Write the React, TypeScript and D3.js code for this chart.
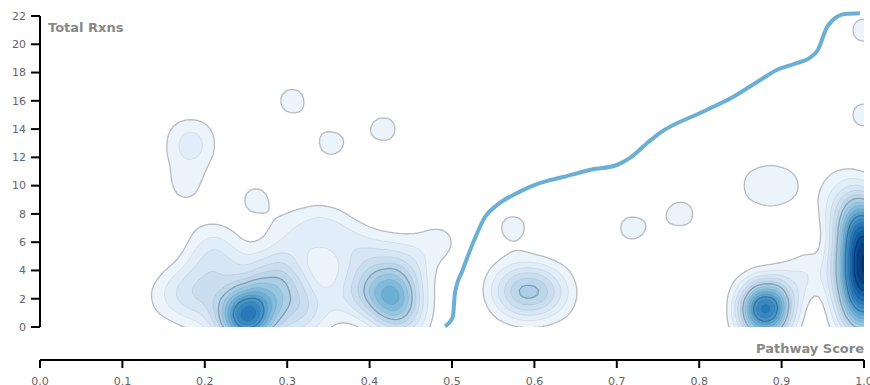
import React from "react";
import * as d3 from "d3";

const W = 870;
const H = 385;
const X0 = 40, X1 = 864, Y0 = 327, Y1 = 16;
const AXIS_Y = 360;

const xTicks = [0, 0.1, 0.2, 0.3, 0.4, 0.5, 0.6, 0.7, 0.8, 0.9, 1.0];
const yTicks = [0, 2, 4, 6, 8, 10, 12, 14, 16, 18, 20, 22];

// [pathway score, total rxns, count]
const isolatedPoints: [number, number, number][] = [
  [0.306, 16, 1], [0.353, 13, 1], [0.417, 14, 1], [0.262, 9, 1],
  [0.574, 7, 1], [0.718, 7, 1], [0.778, 8, 1], [0.871, 10, 1], [0.903, 10, 1],
  [1.0, 21, 1], [1.0, 15, 1], [0.183, 13, 2], [0.177, 10, 1],
];
const broadPoints: [number, number, number][] = [
  [0.155, 2, 1], [0.175, 3, 1], [0.19, 2, 1], [0.2, 4, 1], [0.205, 6, 1], [0.22, 5, 1],
  [0.2, 1, 1], [0.215, 3, 1], [0.25, 4, 1], [0.28, 4, 1], [0.3, 6, 1], [0.325, 7, 1],
  [0.35, 7, 1], [0.37, 6, 1], [0.39, 5, 1], [0.41, 5, 1], [0.44, 5, 1],
  [0.445, 4, 1], [0.485, 6, 1], [0.3, 4, 1], [0.31, 2, 1], [0.31, 3, 1], [0.33, 1, 1],
  [0.37, 2, 1], [0.38, 3, 1], [0.445, 2, 1], [0.44, 1, 1], [0.44, 0, 1], [0.3, 0, 1], [0.31, 1, 1],
];
const clusterA: [number, number, number][] = [
  [0.25, 1, 3], [0.24, 1, 2], [0.26, 1, 2], [0.25, 0, 2], [0.24, 0, 1], [0.26, 0, 1],
  [0.25, 2, 1], [0.27, 2, 1], [0.28, 2, 1], [0.28, 3, 1],
];
const clusterB: [number, number, number][] = [
  [0.42, 2, 2], [0.42, 3, 1], [0.43, 2, 1], [0.41, 3, 1], [0.43, 1, 1], [0.4, 2, 1], [0.44, 3, 1],
];
const clusterC: [number, number, number][] = [
  [0.59, 2, 1], [0.6, 3, 1], [0.585, 3, 1], [0.6, 2, 1],
  [0.57, 2, 1], [0.62, 3, 1], [0.565, 3, 1], [0.625, 2, 1],
];
const clusterD: [number, number, number][] = [
  [0.88, 1, 7], [0.88, 2, 4], [0.88, 0, 1], [0.915, 3, 1], [0.94, 4, 1],
];
const clusterE: [number, number, number][] = [
  [1.0, 0, 2], [1.0, 1, 3], [1.0, 2, 4], [1.0, 3, 5], [1.0, 4, 5], [1.0, 5, 5],
  [1.0, 6, 5], [1.0, 7, 4], [1.0, 8, 3], [1.0, 9, 1],
  [0.97, 8, 1], [0.975, 10, 1],
];

// trend line [pathway score, total rxns]
const trendLine: [number, number][] = [
  [0.4915, 0.05], [0.501, 0.71], [0.5036, 2.4], [0.513, 4.03], [0.5255, 5.94], [0.54, 7.78],
  [0.5546, 8.63], [0.579, 9.48], [0.607, 10.19], [0.635, 10.61], [0.667, 11.11], [0.7, 11.46],
  [0.716, 11.96], [0.737, 13.02], [0.752, 13.72], [0.801, 15.14], [0.841, 16.27], [0.874, 17.47],
  [0.894, 18.18], [0.919, 18.68], [0.934, 19.03], [0.944, 19.6], [0.955, 21.2], [0.962, 21.7],
  [0.977, 22.14], [0.995, 22.2],
];

const FONT = "'DejaVu Sans', sans-serif";

export default function App() {
  const xs = d3.scaleLinear().domain([0, 1]).range([X0, X1]);
  const ys = d3.scaleLinear().domain([0, 22]).range([Y0, Y1]);
  const pts = [...isolatedPoints, ...broadPoints, ...clusterA, ...clusterB, ...clusterC, ...clusterD, ...clusterE];
  const BW = 15;
  // effective spread of d3's three-pass box blur on its 4px grid
  const rb = (Math.sqrt(4 * BW * BW + 1) - 1) / 2 / 4;
  const sigmaEff = 4 * Math.sqrt(rb * (rb + 1));
  const peak = 1 / (2 * Math.PI * sigmaEff * sigmaEff);
  const step = 0.72 * peak;
  const thresholds = d3.range(1, 60).map((i) => i * step);
  const contours = d3
    .contourDensity<[number, number, number]>()
    .x((d) => xs(d[0]))
    .y((d) => ys(d[1]))
    .weight((d) => d[2])
    .size([W, H])
    .bandwidth(BW)
    .thresholds(thresholds)(pts)
    .filter((c) => c.coordinates.length > 0);
  const maxV = d3.max(contours, (c) => c.value) ?? 1;
  const color = d3.scaleSequential(d3.interpolateBlues).domain([0, maxV]);
  const path = d3.geoPath();
  const line = d3
    .line<[number, number]>()
    .x((d) => xs(d[0]))
    .y((d) => ys(d[1]))
    .curve(d3.curveMonotoneX);

  return (
    <svg width={W} height={H} style={{ position: "absolute", left: 0, top: 0, display: "block" }}>
      <defs>
        <clipPath id="plotClip">
          <rect x={0} y={0} width={X1} height={Y0} />
        </clipPath>
      </defs>
      <g clipPath="url(#plotClip)">
        {contours.map((c, i) => (
          <path
            key={i}
            d={path(c) ?? ""}
            fill={color(c.value)}
            stroke="#000"
            strokeOpacity={i % 5 === 0 ? 0.25 : 0.07}
            strokeWidth={i % 5 === 0 ? 1.3 : 1}
            strokeLinejoin="round"
          />
        ))}
      </g>
      <path d={line(trendLine) ?? ""} fill="none" stroke="#6baed6" strokeWidth={4} strokeLinecap="butt" />
      {/* y axis */}
      <g>
        <line x1={X0} x2={X0} y1={Y1} y2={Y0} stroke="#000" strokeWidth={2} />
        {yTicks.map((t) => (
          <g key={t} transform={`translate(0,${ys(t)})`}>
            <line x1={X0 - 9} x2={X0} stroke="#000" strokeWidth={2} />
            <text x={X0 - 14} dy="0.35em" textAnchor="end" fontFamily={FONT} fontSize={11} fill="#666">
              {t}
            </text>
          </g>
        ))}
        <text x={48} y={32} fontFamily={FONT} fontWeight="bold" fontSize={13} fill="#888">
          Total Rxns
        </text>
      </g>
      {/* x axis */}
      <g>
        <line x1={X0} x2={X1} y1={AXIS_Y} y2={AXIS_Y} stroke="#000" strokeWidth={2} />
        {xTicks.map((t) => (
          <g key={t} transform={`translate(${xs(t)},0)`}>
            <line y1={AXIS_Y} y2={AXIS_Y + 8} stroke="#000" strokeWidth={2} />
            <text y={385} textAnchor="middle" fontFamily={FONT} fontSize={11} fill="#666">
              {t.toFixed(1)}
            </text>
          </g>
        ))}
        <text x={X1} y={353} textAnchor="end" fontFamily={FONT} fontWeight="bold" fontSize={13} fill="#888">
          Pathway Score
        </text>
      </g>
    </svg>
  );
}
